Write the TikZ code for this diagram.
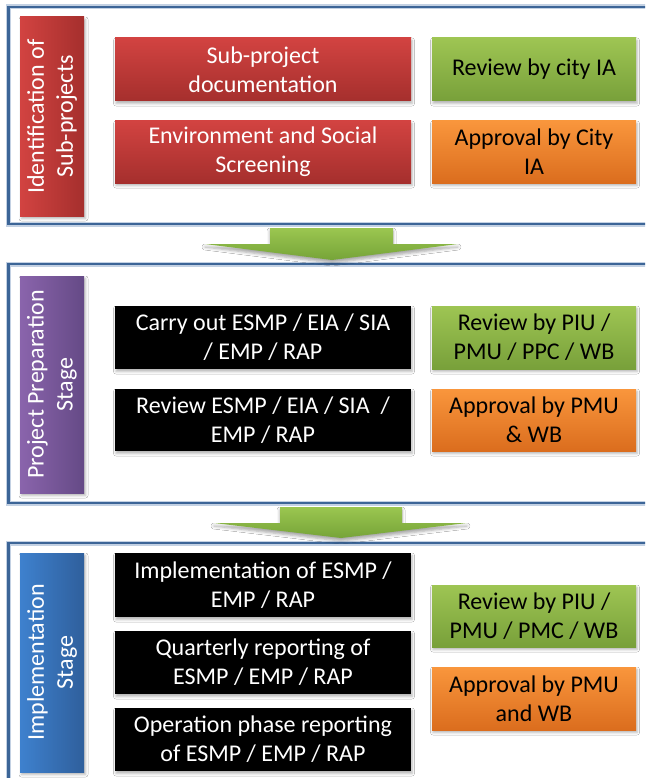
\documentclass[tikz,border=0pt]{standalone}
\usepackage{fontspec}
\setmainfont{Carlito}
\usetikzlibrary{shadows.blur}

\definecolor{framecol}{HTML}{3C6597}
\definecolor{framehalo}{HTML}{C3D1E3}
\definecolor{redtop}{HTML}{D24341}
\definecolor{redbot}{HTML}{A52F2D}
\definecolor{grntop}{HTML}{9EC553}
\definecolor{grnbot}{HTML}{78A03A}
\definecolor{orgtop}{HTML}{F9963C}
\definecolor{orgbot}{HTML}{DB6D1E}
\definecolor{purl}{HTML}{8A64AC}
\definecolor{purr}{HTML}{654A86}
\definecolor{bluel}{HTML}{3E81CE}
\definecolor{bluer}{HTML}{2F5F9C}
\definecolor{arrtop}{HTML}{9BC650}
\definecolor{arrbot}{HTML}{76A438}

\tikzset{
  box/.style={rectangle, inner sep=0pt, align=center,
    font=\fontsize{24}{29}\selectfont,
    blur shadow={shadow xshift=1pt, shadow yshift=-2.5pt, shadow blur radius=2.5pt, shadow opacity=30}},
  redbox/.style={box, top color=redtop, bottom color=redbot, text=white, minimum width=296pt},
  blackbox/.style={box, fill=black, text=white, minimum width=296pt},
  greenbox/.style={box, top color=grntop, bottom color=grnbot, text=black, minimum width=204pt},
  orangebox/.style={box, top color=orgtop, bottom color=orgbot, text=black, minimum width=204pt},
  sidebox/.style={rectangle, inner sep=0pt, minimum width=64pt,
    blur shadow={shadow xshift=1.5pt, shadow yshift=-2.5pt, shadow blur radius=2.5pt, shadow opacity=30}},
  sidetext/.style={rotate=90, inner sep=0pt, align=center, text=white,
    font=\fontsize{24}{29}\selectfont},
  panel/.style={draw=framecol, line width=2.6pt,
    preaction={draw=framehalo, line width=5pt}},
  flowarrow/.style={top color=arrtop, bottom color=arrbot,
    blur shadow={shadow xshift=0pt, shadow yshift=-3pt, shadow blur radius=3pt, shadow opacity=35}}
}

\begin{document}
\begin{tikzpicture}[x=1pt, y=-1pt]
\useasboundingbox (0,0) rectangle (645,778);
\clip (0,0) rectangle (645,778);
\fill[white] (0,0) rectangle (645,778);

% stage frames (open to the right and, for the last one, at the bottom)
\draw[panel] (8.5,7) rectangle (700,224);
\draw[panel] (8.5,264) rectangle (700,503);
\draw[panel] (8.5,543) rectangle (700,820);

% block arrows between stages
\path[flowarrow] (270,228) -- (393,228) -- (393,244) -- (458,244) -- (332,260)
  -- (205,244) -- (270,244) -- cycle;
\path[flowarrow] (280,507) -- (402,507) -- (402,523) -- (467,523) -- (341,538)
  -- (214,523) -- (280,523) -- cycle;

% stage 1
\node[sidebox, left color=redtop, right color=redbot, minimum height=199pt] (s1) at (52,116.5) {};
\node[sidetext] (s1t) at (s1.center) {Identification of\\Sub-projects};
\node[redbox, minimum height=63pt] (r1) at (263,69.5) {Sub-project\\documentation};
\node[redbox, minimum height=62pt] (r2) at (263,152) {Environment and Social\\Screening};
\node[greenbox, minimum height=63pt] (g1) at (534,69.5) {Review by city IA};
\node[orangebox, minimum height=62pt] (o1) at (534,152) {Approval by City\\IA};

% stage 2
\node[sidebox, left color=purl, right color=purr, minimum height=217pt] (s2) at (52,384.5) {};
\node[sidetext] (s2t) at (s2.center) {Project Preparation\\Stage};
\node[blackbox, minimum height=63pt] (b1) at (263,337.5) {Carry out ESMP / EIA / SIA\\/ EMP / RAP};
\node[blackbox, minimum height=62pt] (b2) at (263,420) {Review ESMP / EIA / SIA~~/\\EMP / RAP};
\node[greenbox, minimum height=63pt] (g2) at (534,337.5) {Review by PIU /\\PMU / PPC / WB};
\node[orangebox, minimum height=62pt] (o2) at (534,420) {Approval by PMU\\\& WB};

% stage 3
\node[sidebox, left color=bluel, right color=bluer, minimum height=219pt] (s3) at (52,662.5) {};
\node[sidetext] (s3t) at (s3.center) {Implementation\\Stage};
\node[blackbox, minimum height=64pt] (b3) at (263,585) {Implementation of ESMP /\\EMP / RAP};
\node[blackbox, minimum height=63pt] (b4) at (263,662.5) {Quarterly reporting of\\ESMP / EMP / RAP};
\node[blackbox, minimum height=63pt] (b5) at (263,739.5) {Operation phase reporting\\of ESMP / EMP / RAP};
\node[greenbox, minimum height=62pt] (g3) at (534,616) {Review by PIU /\\PMU / PMC / WB};
\node[orangebox, minimum height=63pt] (o3) at (534,698.5) {Approval by PMU\\and WB};
\end{tikzpicture}
\end{document}
